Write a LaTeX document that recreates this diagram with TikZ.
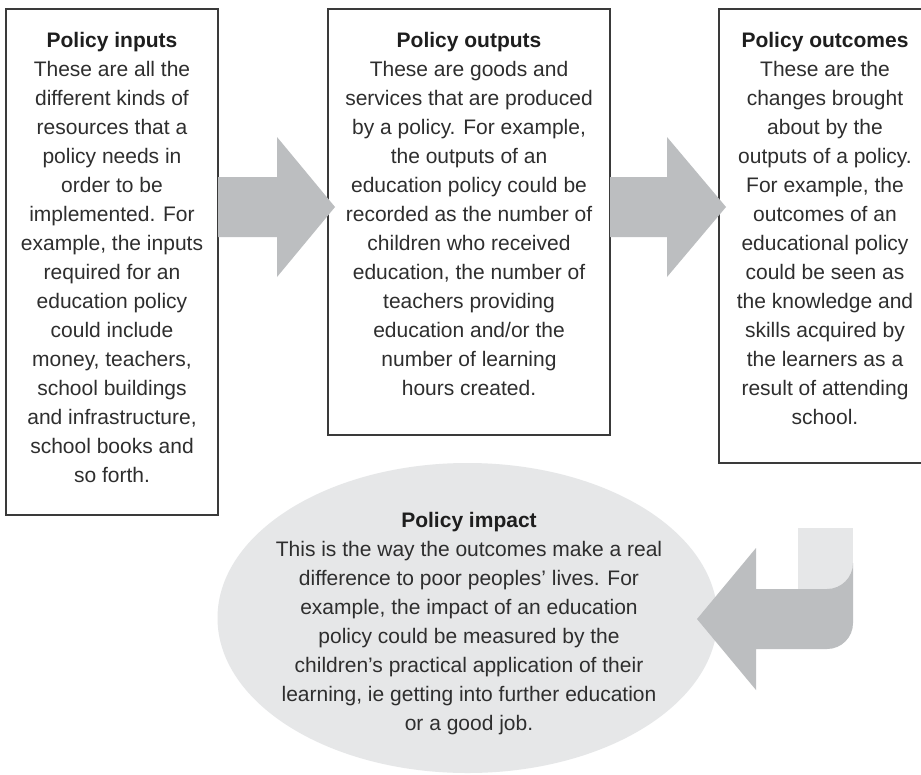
\documentclass[tikz,border=0pt]{standalone}
\usepackage{fontspec}
\setmainfont{Liberation Sans}
\usetikzlibrary{shapes.geometric}
\definecolor{arrowgray}{HTML}{BCBEC0}
\definecolor{palegray}{HTML}{E6E7E8}
\definecolor{ink}{HTML}{2E2E2E}
\definecolor{titleink}{HTML}{1E1E1E}
\definecolor{boxline}{HTML}{3A3A3A}
\begin{document}
\begin{tikzpicture}[x=1pt,y=-1pt,
  box/.style={draw=boxline, line width=1.2pt, inner sep=0pt, outer sep=0pt, anchor=north west},
  txt/.style={align=center, inner sep=0pt, font=\fontsize{21pt}{29pt}\selectfont, text=ink, anchor=base},
  blockarrow/.style={fill=arrowgray, draw=none},
  bubble/.style={ellipse, fill=palegray, draw=none, inner sep=0pt, minimum width=500pt, minimum height=310pt}
]
\clip (0,0) rectangle (921,774);
\useasboundingbox (0,0) rectangle (921,774);
\fill[white] (0,0) rectangle (921,774);

% boxes
\node[box, minimum width=212pt, minimum height=506pt] (b1) at (6,9) {};
\node[box, minimum width=282pt, minimum height=426pt] (b2) at (328,9) {};
\node[box, minimum width=212pt, minimum height=454pt] (b3) at (719,9) {};

% texts in boxes (anchor base = baseline of the last line)
\node[txt] (t1) at (112,482) {\textcolor{titleink}{\bfseries Policy inputs}\\
These are all the\\
different kinds of\\
resources that a\\
policy needs in\\
order to be\\
implemented. For\\
example, the inputs\\
required for an\\
education policy\\
could include\\
money, teachers,\\
school buildings\\
and infrastructure,\\
school books and\\
so forth.};

\node[txt] (t2) at (469,395) {\textcolor{titleink}{\bfseries Policy outputs}\\
These are goods and\\
services that are produced\\
by a policy. For example,\\
the outputs of an\\
education policy could be\\
recorded as the number of\\
children who received\\
education, the number of\\
teachers providing\\
education and/or the\\
number of learning\\
hours created.};

\node[txt] (t3) at (825,424) {\textcolor{titleink}{\bfseries Policy outcomes}\\
These are the\\
changes brought\\
about by the\\
outputs of a policy.\\
For example, the\\
outcomes of an\\
educational policy\\
could be seen as\\
the knowledge and\\
skills acquired by\\
the learners as a\\
result of attending\\
school.};

% block arrows between boxes
\coordinate (a1) at (218,207);
\coordinate (a2) at (610,207);
\fill[blockarrow] (a1) ++(0,-30) -- ++(59,0) -- ++(0,-40) -- (335,207) -- (277,277) -- (277,237) -- (218,237) -- cycle;
\fill[blockarrow] (a2) ++(0,-30) -- ++(57,0) -- ++(0,-40) -- (726,207) -- (667,277) -- (667,237) -- (610,237) -- cycle;

% impact ellipse
\node[bubble] (imp) at (467.5,618) {};
\node[txt] (t4) at (469,730) {\textcolor{titleink}{\bfseries Policy impact}\\
This is the way the outcomes make a real\\
difference to poor peoples’ lives. For\\
example, the impact of an education\\
policy could be measured by the\\
children’s practical application of their\\
learning, ie getting into further education\\
or a good job.};

% bent arrow from outcomes to impact
\fill[palegray] (798,528) rectangle (853,590);
\fill[blockarrow] (697,619) -- (756,548) -- (756,589) -- (827,589)
  .. controls (841.4,589) and (853,577.4) .. (853,563)
  -- (853,623)
  .. controls (853,637.4) and (841.4,649) .. (827,649)
  -- (756,649) -- (756,690) -- cycle;
\end{tikzpicture}
\end{document}
